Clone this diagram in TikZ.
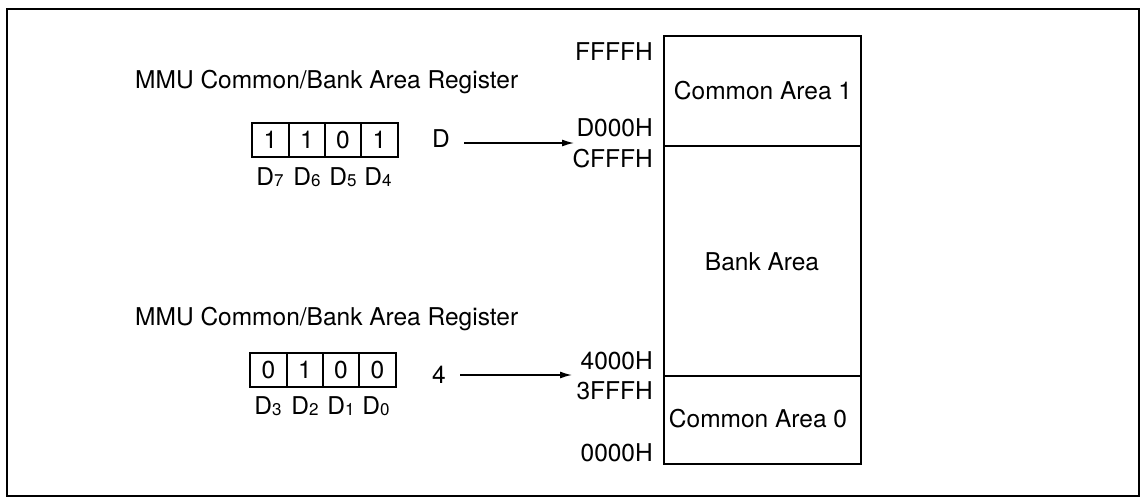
\documentclass[tikz,border=0pt]{standalone}
\usepackage{fontspec}
\setmainfont{TeX Gyre Heros}
\usetikzlibrary{arrows.meta}
\newcommand{\bitsub}[1]{{\fontsize{17}{17}\selectfont\raisebox{-1.5pt}{#1}}}
\begin{document}
\begin{tikzpicture}[x=1pt,y=-1pt,
  txt/.style={font=\fontsize{24.5}{26}\selectfont, inner sep=0pt},
  cell/.style={draw, line width=2pt, minimum width=36.5pt, minimum height=34pt, inner sep=0pt, font=\fontsize{24.5}{26}\selectfont},
  area/.style={draw, line width=2pt, minimum width=197pt, inner sep=0pt},
  conn/.style={line width=1.4pt, -{Latex[length=12pt,width=7pt]}}]
\useasboundingbox (0,0) rectangle (1144,499);
\draw[line width=2pt] (7,9) rectangle (1139,496);
% memory map
\node[area, minimum height=110pt, anchor=north west] (ca1) at (663,35) {};
\node[area, minimum height=230pt, anchor=north west] (bank) at (663,145) {};
\node[area, minimum height=88pt, anchor=north west] (ca0) at (663,375) {};
\node[txt] (ca1t) at (763,91) {Common Area 1};
\node[txt] (bankt) at (762,262) {Bank Area};
\node[txt] (ca0t) at (758,419) {Common Area 0};
% addresses
\node[txt, anchor=east] (a1) at (653,52) {FFFFH};
\node[txt, anchor=east] (a2) at (653,128) {D000H};
\node[txt, anchor=east] (a3) at (653,159) {CFFFH};
\node[txt, anchor=east] (a4) at (653,361) {4000H};
\node[txt, anchor=east] (a5) at (653,391) {3FFFH};
\node[txt, anchor=east] (a6) at (653,453) {0000H};
% register 1
\node[txt, anchor=west] (r1) at (135,82) {MMU Common/Bank Area Register};
\node[cell] (b7) at (270.5,140) {1};
\node[cell] (b6) at (307,140) {1};
\node[cell] (b5) at (343,140) {0};
\node[cell] (b4) at (379.5,140) {1};
\node[txt] (l7) at (270,177) {D\bitsub{7}};
\node[txt] (l6) at (307,177) {D\bitsub{6}};
\node[txt] (l5) at (343,177) {D\bitsub{5}};
\node[txt] (l4) at (378,177) {D\bitsub{4}};
\node[txt] (hD) at (441,139) {D};
\coordinate (tD) at (574,143);
\draw[conn] (hD.east |- tD) ++(14pt,0) coordinate (sD) -- (tD);
% register 2
\node[txt, anchor=west] (r2) at (135,319) {MMU Common/Bank Area Register};
\node[cell] (b3) at (268.5,369.5) {0};
\node[cell] (b2) at (305,369.5) {1};
\node[cell] (b1) at (341,369.5) {0};
\node[cell] (b0) at (377.5,369.5) {0};
\node[txt] (l3) at (268,406) {D\bitsub{3}};
\node[txt] (l2) at (305,406) {D\bitsub{2}};
\node[txt] (l1) at (341,406) {D\bitsub{1}};
\node[txt] (l0) at (376,406) {D\bitsub{0}};
\node[txt] (h4) at (439,375) {4};
\coordinate (t4) at (572,375);
\draw[conn] (h4.east |- t4) ++(14pt,0) coordinate (s4) -- (t4);
\end{tikzpicture}
\end{document}
